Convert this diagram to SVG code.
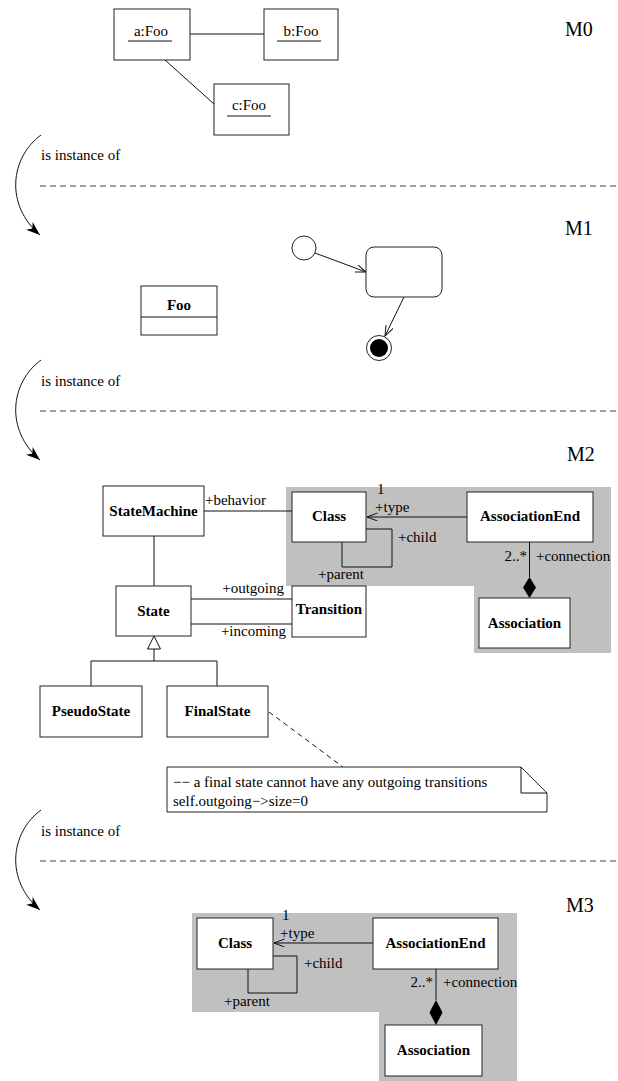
<svg xmlns="http://www.w3.org/2000/svg" width="618" height="1081" viewBox="0 0 618 1081">
<style>
text{font-family:"Liberation Serif","Times New Roman",serif;font-size:15px;fill:#000}
.b{font-weight:bold}
.m{font-size:20px}
.c{text-anchor:middle}
.e{text-anchor:end}
.box{fill:#fff;stroke:#222;stroke-width:1}
.ln{fill:none;stroke:#111;stroke-width:1}
.dash{fill:none;stroke:#444;stroke-width:1;stroke-dasharray:6 4}
.gray{fill:#c0c0c0;stroke:none}
</style>
<defs>
<marker id="fat" markerUnits="userSpaceOnUse" markerWidth="16" markerHeight="12" refX="14" refY="5" orient="auto"><path d="M0,0 L14,5 L0,10 L4,5 z" fill="#000"/></marker>
<marker id="open" markerUnits="userSpaceOnUse" markerWidth="12" markerHeight="10" refX="10.5" refY="4" orient="auto"><path d="M0,0 L10.5,4 L0,8" fill="none" stroke="#111" stroke-width="1"/></marker>
</defs>
<rect width="618" height="1081" fill="#fff"/>

<g id="levels">
<text class="m" x="565" y="36">M0</text>
<text class="m" x="565" y="235">M1</text>
<text class="m" x="567" y="461">M2</text>
<text class="m" x="566" y="912">M3</text>
<path class="dash" d="M40,186 H618"/>
<path class="dash" d="M40,411 H618"/>
<path class="dash" d="M40,861 H618"/>
<text x="41" y="160">is instance of</text>
<text x="41" y="386">is instance of</text>
<text x="41" y="836">is instance of</text>
</g>

<g id="gray-areas">
<polygon class="gray" points="286,487 611,487 611,653 474,653 474,586 286,586"/>
<polygon class="gray" points="192,913 517,913 517,1081 379,1081 379,1012 192,1012"/>
</g>

<g id="connectors">
<path class="ln" d="M41,135 C10,158 5,205 40,235" marker-end="url(#fat)"/>
<path class="ln" d="M41,360 C10,383 5,430 40,460" marker-end="url(#fat)"/>
<path class="ln" d="M41,810 C10,833 5,880 40,910" marker-end="url(#fat)"/>
<path class="ln" d="M190,34 H264"/>
<path class="ln" d="M165,60 L214,104"/>
<path class="ln" d="M315,253 L366,272" marker-end="url(#open)"/>
<path class="ln" d="M404,297 L385,336" marker-end="url(#open)"/>
<path class="ln" d="M204,511 H292"/>
<text x="205" y="505">+behavior</text>
<path class="ln" d="M154,536 V586"/>
<path class="ln" d="M191,599 H292"/>
<path class="ln" d="M191,624 H292"/>
<text class="e" x="284" y="593">+outgoing</text>
<text class="e" x="286" y="636">+incoming</text>
<path class="ln" d="M154,649 V661 M91,686 V661 H217 V686"/>
<polygon points="154,636 160.5,649 147.5,649" fill="#fff" stroke="#111"/>
<path class="ln" d="M467,517 H367" marker-end="url(#open)"/>
<text x="377" y="494">1</text>
<text x="375" y="512">+type</text>
<path class="ln" d="M366,529 H392 V567 H342 V542"/>
<text x="398" y="542">+child</text>
<text x="318" y="579">+parent</text>
<path class="ln" d="M529.5,542 V577"/>
<polygon points="529.5,577 536,587.5 529.5,598 523,587.5" fill="#000"/>
<text class="e" x="527" y="561">2..*</text>
<text x="536" y="561">+connection</text>
<path d="M269,712 L343,767" fill="none" stroke="#111" stroke-dasharray="5 4"/>
<path class="ln" d="M373,943 H274" marker-end="url(#open)"/>
<text x="282" y="920">1</text>
<text x="280" y="938">+type</text>
<path class="ln" d="M273,956 H297 V993 H248 V969"/>
<text x="304" y="968">+child</text>
<text x="224" y="1006">+parent</text>
<path class="ln" d="M436,969 V1000"/>
<polygon points="436,1000 442.5,1012.5 436,1025 429.5,1012.5" fill="#000"/>
<text class="e" x="433" y="987">2..*</text>
<text x="443" y="987">+connection</text>
</g>

<g id="a-foo">
<rect class="box" x="114" y="9" width="76" height="51"/>
<text class="c" x="151" y="36">a:Foo</text>
<path class="ln" d="M128,41 H172"/>
</g>
<g id="b-foo">
<rect class="box" x="264" y="9" width="74" height="51"/>
<text class="c" x="301" y="36">b:Foo</text>
<path class="ln" d="M277,41 H321"/>
</g>
<g id="c-foo">
<rect class="box" x="214" y="84" width="75" height="51"/>
<text class="c" x="249" y="110">c:Foo</text>
<path class="ln" d="M227,116 H271"/>
</g>

<g id="m1-initial"><circle cx="304" cy="248" r="12" fill="#fff" stroke="#222"/></g>
<g id="m1-state"><rect class="box" x="366" y="247" width="76" height="50" rx="8"/></g>
<g id="m1-final"><circle cx="379" cy="348" r="12.5" fill="#fff" stroke="#222"/><circle cx="379" cy="348" r="9" fill="#000"/></g>
<g id="m1-foo">
<rect class="box" x="141" y="286" width="76" height="49"/>
<path class="ln" d="M141,317 H217"/>
<text class="c b" x="179" y="310">Foo</text>
</g>

<g id="m2-statemachine"><rect class="box" x="103" y="486" width="101" height="50"/><text class="c b" x="153.5" y="516">StateMachine</text></g>
<g id="m2-state"><rect class="box" x="116" y="586" width="75" height="50"/><text class="c b" x="153.5" y="616">State</text></g>
<g id="m2-transition"><rect class="box" x="292" y="586" width="74" height="51"/><text class="c b" x="329" y="614">Transition</text></g>
<g id="m2-class"><rect class="box" x="292" y="492" width="74" height="50"/><text class="c b" x="329" y="521">Class</text></g>
<g id="m2-associationend"><rect class="box" x="467" y="492" width="126" height="50"/><text class="c b" x="530" y="521">AssociationEnd</text></g>
<g id="m2-association"><rect class="box" x="479" y="598" width="91" height="50"/><text class="c b" x="524.5" y="628">Association</text></g>
<g id="m2-pseudostate"><rect class="box" x="40" y="686" width="102" height="51"/><text class="c b" x="91" y="716">PseudoState</text></g>
<g id="m2-finalstate"><rect class="box" x="167" y="686" width="101" height="51"/><text class="c b" x="217.5" y="716">FinalState</text></g>
<g id="m2-note">
<polygon class="box" points="167,767 521,767 547,793 547,812 167,812"/>
<path class="ln" d="M521,767 V793 H547"/>
<text x="173" y="787">−− a final state cannot have any outgoing transitions</text>
<text x="173" y="806">self.outgoing−&gt;size=0</text>
</g>

<g id="m3-class"><rect class="box" x="197" y="918" width="76" height="51"/><text class="c b" x="235" y="948">Class</text></g>
<g id="m3-associationend"><rect class="box" x="373" y="918" width="125" height="51"/><text class="c b" x="435.5" y="948">AssociationEnd</text></g>
<g id="m3-association"><rect class="box" x="385" y="1025" width="97" height="51"/><text class="c b" x="433.5" y="1055">Association</text></g>
</svg>
